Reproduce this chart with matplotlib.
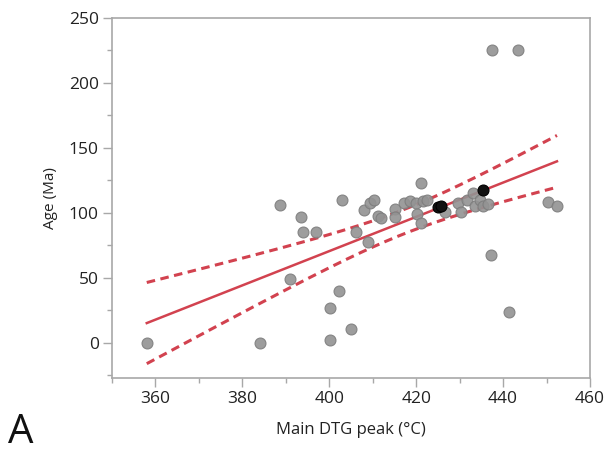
import numpy as np
import matplotlib
matplotlib.use("Agg")
import matplotlib.pyplot as plt
from matplotlib.ticker import MultipleLocator

# Data (Main DTG peak °C, Age Ma)
dtg_peak = [358, 384, 388.6, 391, 393.5, 394, 397, 400.2, 400.2, 402.2, 403, 405,
            406.2, 408, 409, 409.3, 410.3, 411.2, 412, 415.2, 415.2, 417.3, 418.5,
            420, 420.3, 421.2, 421.2, 421.6, 422.4, 426.6, 429.7, 430.4, 431.6,
            433.1, 433.5, 434.7, 435.4, 436.6, 437.2, 437.4, 441.3, 443.4, 450.3, 452.4]
age = [0, 0, 106, 49, 97, 85, 85, 27, 2, 40, 110, 11,
       85, 102.5, 78, 108, 110, 98, 96, 103, 96.6, 108, 109,
       108, 99, 123, 92, 109, 110, 101, 108, 101, 110,
       115, 105, 110, 105, 107, 68, 225.6, 24, 225.6, 108.5, 105.6]
# highlighted (black) samples
hl_peak = [425.0, 425.7, 435.3]
hl_age = [104.6, 105.5, 117.9]

x_all = np.array(dtg_peak + hl_peak, dtype=float)
y_all = np.array(age + hl_age, dtype=float)

# Linear fit with confidence band of the mean
n = len(x_all)
slope, intercept = np.polyfit(x_all, y_all, 1)
resid = y_all - (slope * x_all + intercept)
s = np.sqrt(np.sum(resid ** 2) / (n - 2))
xbar = x_all.mean()
sxx = np.sum((x_all - xbar) ** 2)
t_val = 1.75
xf = np.linspace(x_all.min(), x_all.max(), 200)
yf = slope * xf + intercept
half = t_val * s * np.sqrt(1.0 / n + (xf - xbar) ** 2 / sxx)

plt.rcParams['font.family'] = ['Open Sans', 'DejaVu Sans']

fig = plt.figure(figsize=(6.06, 4.54), dpi=100)
ax = fig.add_axes([112 / 606, 1 - 378 / 454, (590 - 112) / 606, (378 - 18) / 454])

red = '#d2424f'
ax.scatter(dtg_peak, age, s=62, color='#939393', edgecolors='#7d7d7d',
           linewidths=0.8, alpha=0.9, zorder=3)
ax.scatter(hl_peak, hl_age, s=62, color='#111111', edgecolors='#000000',
           linewidths=0.8, zorder=4)
ax.plot(xf, yf, color=red, lw=1.8, zorder=2)
ax.plot(xf, yf + half, color=red, lw=2.2, ls=(0, (2.8, 1.8)), zorder=2)
ax.plot(xf, yf - half, color=red, lw=2.2, ls=(0, (2.8, 1.8)), zorder=2)

ax.set_xlim(350, 460)
ax.set_ylim(-27, 250)
ax.xaxis.set_major_locator(MultipleLocator(20))
ax.xaxis.set_minor_locator(MultipleLocator(10))
ax.yaxis.set_major_locator(MultipleLocator(50))
ax.yaxis.set_minor_locator(MultipleLocator(25))

for sp in ax.spines.values():
    sp.set_color('#a8a8a8')
    sp.set_linewidth(1.2)
ax.tick_params(which='major', length=6.5, width=1.0, color='#a8a8a8',
               labelsize=12.5, labelcolor='#222222', pad=3)
ax.tick_params(which='minor', length=3.5, width=1.0, color='#a8a8a8')
ax.tick_params(axis='x', which='both', top=False)
ax.tick_params(axis='y', which='both', right=False)

ax.set_xlabel('Main DTG peak (°C)', fontsize=12, color='#222222', labelpad=11)
ax.set_ylabel('Age (Ma)', fontsize=11, color='#222222', labelpad=8)

fig.text(8 / 606, 1 / 454, 'A', fontsize=29, color='#111111', ha='left', va='bottom')

fig.savefig('out.png', dpi=100)
